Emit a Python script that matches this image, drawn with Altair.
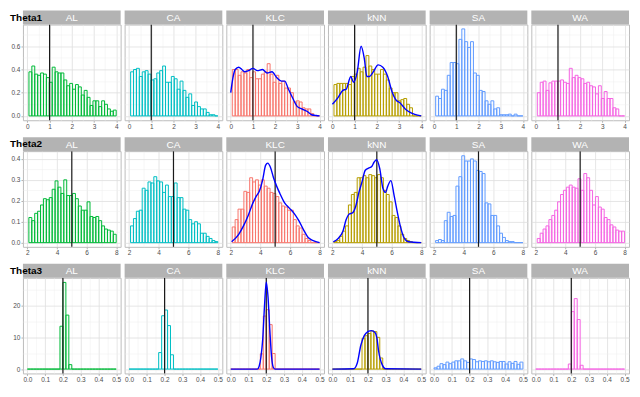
import altair as alt
import pandas as pd

# ---------------- data ----------------
methods = ["AL", "CA", "KLC", "kNN", "SA", "WA"]
colors = ["#00BA38", "#00BFC4", "#F8766D", "#B79F00", "#619CFF", "#F564E3"]
row_names = ["Theta1", "Theta2", "Theta3"]
true_values = [1.0, 5.0, 0.2]

# histogram bin grid per row (start, end, number of bins)
bin_lo = [0.07, 2.1, 0.0]
bin_hi = [4.0, 8.0, 0.5]
n_bins = 30

# histogram densities (one list per method, per row)
theta1 = {
    "AL": [0.38, 0.43, 0.36, 0.35, 0.37, 0.36, 0.33, 0.29, 0.42, 0.38, 0.37, 0.37, 0.31, 0.26, 0.28,
           0.23, 0.27, 0.25, 0.18, 0.22, 0.16, 0.09, 0.13, 0.13, 0.08, 0.13, 0.10, 0.06, 0.04, 0.05],
    "CA": [0.38, 0.40, 0.41, 0.34, 0.38, 0.39, 0.36, 0.31, 0.32, 0.37, 0.39, 0.43, 0.29, 0.29, 0.34,
           0.32, 0.23, 0.30, 0.22, 0.16, 0.19, 0.09, 0.12, 0.08, 0.06, 0.06, 0.03, 0.01, 0.01, 0.00],
    "KLC": [0.40, 0.40, 0.35, 0.38, 0.37, 0.40, 0.33, 0.38, 0.32, 0.32, 0.36, 0.38, 0.45, 0.36, 0.29,
            0.35, 0.28, 0.30, 0.24, 0.24, 0.20, 0.12, 0.13, 0.12, 0.07, 0.06, 0.06, 0.02, 0.00, 0.00],
    "kNN": [0.27, 0.28, 0.28, 0.28, 0.28, 0.27, 0.34, 0.36, 0.41, 0.38, 0.42, 0.52, 0.43, 0.40, 0.36,
            0.36, 0.40, 0.36, 0.31, 0.24, 0.20, 0.20, 0.13, 0.14, 0.15, 0.10, 0.07, 0.00, 0.00, 0.00],
    "SA": [0.17, 0.15, 0.23, 0.22, 0.35, 0.46, 0.46, 0.45, 0.66, 0.75, 0.64, 0.59, 0.64, 0.37, 0.35,
           0.22, 0.21, 0.13, 0.10, 0.13, 0.06, 0.07, 0.01, 0.01, 0.01, 0.015, 0.00, 0.015, 0.00, 0.00],
    "WA": [0.20, 0.29, 0.30, 0.22, 0.285, 0.30, 0.30, 0.30, 0.31, 0.29, 0.28, 0.41, 0.33, 0.35, 0.33,
           0.32, 0.28, 0.29, 0.26, 0.25, 0.19, 0.26, 0.15, 0.21, 0.15, 0.15, 0.07, 0.06, 0.00, 0.00],
}
theta2 = {
    "AL": [0.12, 0.105, 0.14, 0.15, 0.18, 0.21, 0.205, 0.215, 0.255, 0.295, 0.265, 0.235, 0.30, 0.225, 0.225,
           0.235, 0.21, 0.175, 0.155, 0.155, 0.195, 0.125, 0.12, 0.125, 0.105, 0.08, 0.065, 0.06, 0.055, 0.04],
    "CA": [0.08, 0.115, 0.15, 0.155, 0.26, 0.25, 0.29, 0.285, 0.315, 0.295, 0.29, 0.24, 0.275, 0.22, 0.22,
           0.285, 0.215, 0.215, 0.16, 0.155, 0.11, 0.09, 0.10, 0.09, 0.045, 0.045, 0.03, 0.02, 0.01, 0.005],
    "KLC": [0.075, 0.11, 0.16, 0.16, 0.245, 0.24, 0.31, 0.29, 0.30, 0.275, 0.30, 0.27, 0.26, 0.24, 0.235,
            0.22, 0.19, 0.175, 0.17, 0.155, 0.155, 0.11, 0.08, 0.07, 0.04, 0.02, 0.01, 0.00, 0.00, 0.00],
    "kNN": [0.005, 0.01, 0.03, 0.055, 0.08, 0.18, 0.23, 0.24, 0.31, 0.31, 0.32, 0.31, 0.325, 0.32, 0.31,
            0.325, 0.31, 0.25, 0.23, 0.195, 0.13, 0.12, 0.08, 0.04, 0.02, 0.01, 0.005, 0.00, 0.00, 0.00],
    "SA": [0.01, 0.015, 0.01, 0.105, 0.145, 0.125, 0.13, 0.27, 0.315, 0.415, 0.39, 0.39, 0.40, 0.39, 0.345,
           0.34, 0.33, 0.19, 0.185, 0.13, 0.13, 0.08, 0.045, 0.025, 0.01, 0.005, 0.005, 0.00, 0.00, 0.00],
    "WA": [0.02, 0.045, 0.065, 0.08, 0.11, 0.13, 0.155, 0.195, 0.23, 0.25, 0.265, 0.275, 0.265, 0.26, 0.305,
           0.25, 0.33, 0.31, 0.25, 0.18, 0.22, 0.17, 0.16, 0.12, 0.11, 0.085, 0.075, 0.06, 0.055, 0.055],
}
z = [0.0] * 10
theta3 = {
    "AL": z + [0.0, 13.5, 27.3, 17.0, 1.4] + [0.0] * 15,
    "CA": z + [5.2, 16.8, 18.6, 13.7, 4.5] + [0.0] * 15,
    "KLC": z + [4.8, 16.7, 18.7, 14.0, 4.9] + [0.0] * 15,
    "kNN": z + [9.7, 10.5, 11.2, 12.0, 11.8, 10.0, 3.5] + [0.0] * 13,
    "SA": [0.4, 0.9, 1.7, 1.4, 2.2, 1.7, 2.2, 2.6, 2.6, 3.2, 2.6, 2.1, 3.2, 3.0, 2.3,
           2.6, 2.4, 2.6, 2.3, 2.6, 2.3, 2.1, 2.4, 2.4, 1.6, 2.3, 1.8, 2.4, 1.5, 2.2],
    "WA": z + [0.0, 1.6, 18.1, 22.2, 15.6, 1.2] + [0.0] * 14,
}
hist_rows = [theta1, theta2, theta3]

# density curves (KLC, kNN)
dens = {
    (0, "KLC"): ([0.0, 0.1, 0.2, 0.36, 0.5, 0.64, 0.8, 1.0, 1.2, 1.43, 1.64, 1.86, 2.07, 2.29, 2.43, 2.6, 2.8,
                  3.0, 3.2, 3.43, 3.64, 3.85, 4.0],
                 [0.20, 0.33, 0.40, 0.42, 0.40, 0.38, 0.39, 0.41, 0.39, 0.40, 0.37, 0.38, 0.33, 0.30, 0.30,
                  0.23, 0.15, 0.08, 0.06, 0.04, 0.01, 0.003, 0.0]),
    (0, "kNN"): ([0.0, 0.26, 0.47, 0.62, 0.83, 0.95, 1.12, 1.29, 1.44, 1.55, 1.67, 1.84, 2.06, 2.27, 2.49,
                  2.68, 2.85, 3.06, 3.28, 3.5, 3.71, 4.0],
                 [0.10, 0.16, 0.22, 0.23, 0.34, 0.29, 0.38, 0.60, 0.49, 0.34, 0.34, 0.38, 0.44, 0.42, 0.34,
                  0.21, 0.14, 0.11, 0.06, 0.03, 0.013, 0.0]),
    (1, "KLC"): ([2.06, 2.54, 2.86, 3.18, 3.5, 3.71, 3.93, 4.14, 4.36, 4.5, 4.68, 4.89, 5.1, 5.32, 5.64, 5.96,
                  6.28, 6.6, 6.93, 7.25, 7.57, 8.0],
                 [0.004, 0.04, 0.08, 0.13, 0.19, 0.22, 0.245, 0.295, 0.37, 0.38, 0.36, 0.31, 0.27, 0.235,
                  0.19, 0.165, 0.14, 0.105, 0.06, 0.023, 0.01, 0.0]),
    (1, "kNN"): ([2.06, 2.39, 2.71, 2.93, 3.14, 3.36, 3.58, 3.79, 4.0, 4.22, 4.44, 4.66, 4.81, 4.98, 5.2, 5.41,
                  5.59, 5.74, 5.95, 6.17, 6.38, 6.6, 6.82, 7.14, 8.0],
                 [0.004, 0.02, 0.054, 0.11, 0.137, 0.142, 0.175, 0.24, 0.29, 0.346, 0.356, 0.364, 0.384,
                  0.396, 0.353, 0.26, 0.24, 0.27, 0.296, 0.225, 0.147, 0.075, 0.026, 0.004, 0.0]),
    (2, "KLC"): ([0.0, 0.15, 0.16, 0.17, 0.18, 0.19, 0.2, 0.21, 0.22, 0.23, 0.24, 0.25, 0.5],
                 [0.0, 0.0, 0.9, 3.8, 9.4, 19.8, 27.4, 22.6, 12.3, 3.8, 0.5, 0.0, 0.0]),
    (2, "kNN"): ([0.0, 0.12, 0.14, 0.16, 0.18, 0.2, 0.22, 0.24, 0.25, 0.26, 0.28, 0.3, 0.5],
                 [0.0, 0.1, 1.9, 7.5, 10.6, 11.8, 12.1, 11.5, 9.9, 5.7, 1.4, 0.1, 0.0]),
}

# axes
x_domains = [[-0.2, 4.2], [1.7, 8.3], [-0.025, 0.525]]
y_domains = [[-0.0375, 0.7875], [-0.02, 0.437], [-1.37, 28.77]]
x_ticks = [[0, 0.5, 1, 1.5, 2, 2.5, 3, 3.5, 4],
           [2, 3, 4, 5, 6, 7, 8],
           [0, 0.05, 0.1, 0.15, 0.2, 0.25, 0.3, 0.35, 0.4, 0.45, 0.5]]
y_ticks = [[0, 0.1, 0.2, 0.3, 0.4, 0.5, 0.6, 0.7],
           [0, 0.05, 0.1, 0.15, 0.2, 0.25, 0.3, 0.35, 0.4],
           [0, 5, 10, 15, 20, 25]]
x_major = ["abs(datum.value - round(datum.value)) < 1e-6",
           "abs(datum.value/2 - round(datum.value/2)) < 1e-6",
           "abs(datum.value*10 - round(datum.value*10)) < 1e-6"]
y_major = ["abs(datum.value*5 - round(datum.value*5)) < 1e-6",
           "abs(datum.value*10 - round(datum.value*10)) < 1e-6",
           "abs(datum.value/10 - round(datum.value/10)) < 1e-6"]
x_fmt = ["d", "d", ".1f"]
y_fmt = [".1f", ".1f", "d"]

# ---------------- layout ----------------
W, H, STRIP = 98, 96, 14
FONT = "Liberation Sans"


def make_axis(values, test, fmt, show_labels):
    kw = dict(
        values=values,
        title=None,
        domain=False,
        gridColor={"condition": {"test": test, "value": "#dedede"}, "value": "#efefef"},
        gridWidth={"condition": {"test": test, "value": 0.8}, "value": 0.5},
    )
    if show_labels:
        kw.update(
            labelExpr=f"({test}) ? format(datum.value, '{fmt}') : ''",
            tickOpacity={"condition": {"test": test, "value": 1}, "value": 0},
            tickSize=2,
            tickColor="#b3b3b3",
        )
    else:
        kw.update(labels=False, ticks=False)
    return alt.Axis(**kw)


def panel(r, j):
    m = methods[j]
    col = colors[j]
    lo, hi = bin_lo[r], bin_hi[r]
    w = (hi - lo) / n_bins
    hs = hist_rows[r][m]
    df = pd.DataFrame({
        "x0": [lo + i * w for i in range(n_bins)],
        "x1": [lo + (i + 1) * w for i in range(n_bins)],
        "h": hs,
        "base": [0.0] * n_bins,
    })
    xs = alt.Scale(domain=x_domains[r], nice=False, zero=False)
    ys = alt.Scale(domain=y_domains[r], nice=False, zero=False)
    xax = make_axis(x_ticks[r], x_major[r], x_fmt[r], True)
    yax = make_axis(y_ticks[r], y_major[r], y_fmt[r], j == 0)

    bars = alt.Chart(df).mark_rect(
        stroke=col, strokeWidth=1, fill=col, fillOpacity=0.04
    ).encode(
        x=alt.X("x0:Q", scale=xs, axis=xax),
        x2="x1",
        y=alt.Y("h:Q", scale=ys, axis=yax),
        y2="base",
    )
    rule = alt.Chart(pd.DataFrame({"t": [true_values[r]]})).mark_rule(
        color="#1a1a1a", strokeWidth=1.2
    ).encode(x=alt.X("t:Q", scale=xs, axis=xax))

    lab = pd.DataFrame({"label": [m]})
    strip = alt.Chart(lab).mark_rect(fill="#b3b3b3", stroke=None).encode(
        x=alt.value(0), x2=alt.value(W), y=alt.value(-STRIP), y2=alt.value(0)
    )
    strip_text = alt.Chart(lab).mark_text(
        color="white", font=FONT, fontSize=10, baseline="middle", align="center"
    ).encode(x=alt.value(W / 2), y=alt.value(-STRIP / 2 + 0.5), text="label:N")

    layers = [bars, rule]
    if (r, m) in dens:
        dx, dy = dens[(r, m)]
        line = alt.Chart(pd.DataFrame({"x": dx, "y": dy})).mark_line(
            color="#0000FF", strokeWidth=1.4, interpolate="monotone"
        ).encode(x=alt.X("x:Q", scale=xs, axis=xax), y=alt.Y("y:Q", scale=ys, axis=yax))
        layers.append(line)
    layers += [strip, strip_text]
    if j == 0:
        title = alt.Chart(pd.DataFrame({"name": [row_names[r]]})).mark_text(
            color="black", font=FONT, fontSize=10, fontWeight="bold", align="left", baseline="middle"
        ).encode(x=alt.value(-13), y=alt.value(-STRIP / 2), text="name:N")
        layers.append(title)
    return alt.layer(*layers).properties(width=W, height=H)


rows = [alt.hconcat(*[panel(r, j) for j in range(6)], spacing=4, bounds="flush") for r in range(3)]
chart = alt.vconcat(*rows, spacing=6).properties(
    padding={"left": 1, "top": 1, "right": 2, "bottom": 1}
).configure_view(
    stroke="#bdbdbd", strokeWidth=1
).configure_axis(
    labelFont=FONT, labelFontSize=6.5, labelColor="#4d4d4d", labelPadding=1
)

chart.save("out.html", embed_options={"renderer": "svg", "actions": False})
